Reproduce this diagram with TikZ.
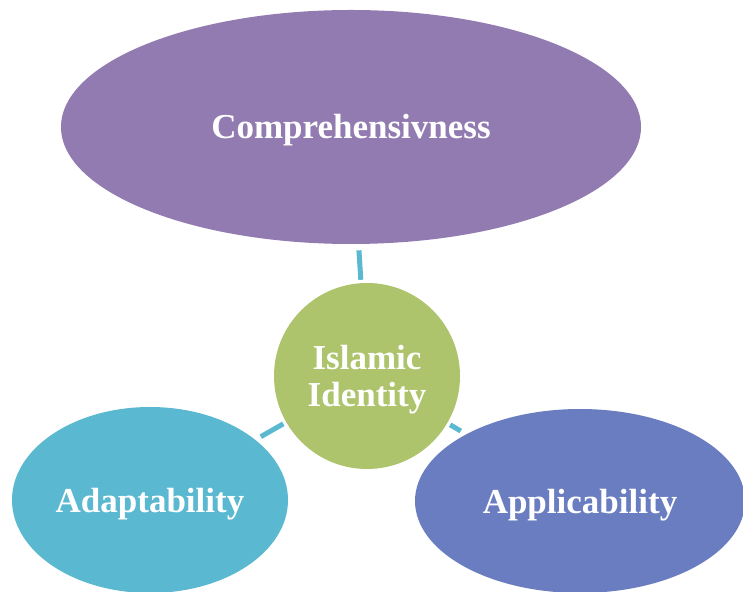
\documentclass[tikz,border=0pt]{standalone}
\usepackage{fontspec}
\setmainfont{Liberation Serif}
\usetikzlibrary{shapes.geometric}

\definecolor{compcol}{RGB}{146,123,176}
\definecolor{idtcol}{RGB}{173,196,108}
\definecolor{adapcol}{RGB}{90,184,208}
\definecolor{applcol}{RGB}{106,125,192}

\begin{document}
\begin{tikzpicture}[x=0.5pt,y=-0.5pt,
        bubble/.style={ellipse, inner sep=0pt, text=white, text height=16pt, text depth=4pt,
            font=\bfseries\fontsize{17.5}{18.5}\selectfont, align=center},
        link/.style={adapcol, line width=2.5pt, shorten <=3pt, shorten >=1.5pt}]
        \clip (0,0) rectangle (743,592);

        \node[bubble, fill=compcol, minimum width=290pt, minimum height=117pt] (comp) at (351,127) {Comprehensivness};
        \node[bubble, fill=adapcol, minimum width=138pt, minimum height=93pt] (adap) at (150,500) {Adaptability};
        \node[bubble, fill=applcol, minimum width=165pt, minimum height=92pt] (appl) at (580,501) {Applicability};
        \node[bubble, circle, fill=idtcol, minimum size=93pt, text height=34.5pt] (idt) at (367,376) {Islamic\\Identity};

        \draw[link] (comp) -- (idt);
        \draw[link] (adap) -- (idt);
        \draw[link] (appl) -- (idt);
    \end{tikzpicture}
\end{document}
